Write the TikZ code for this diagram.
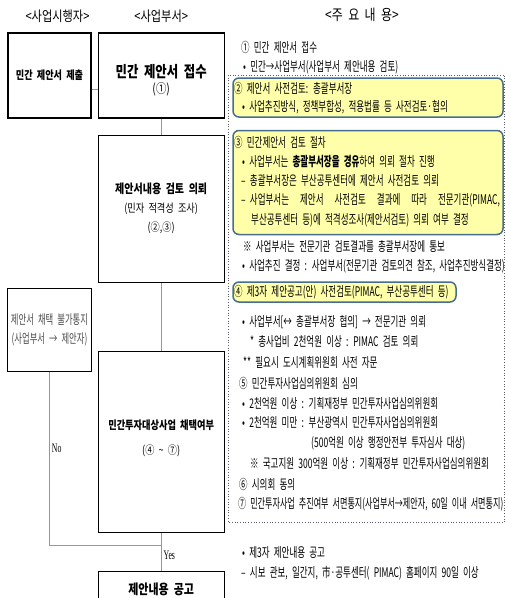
\documentclass[tikz,border=0pt]{standalone}
\usepackage{fontspec}
\setmainfont{Noto Sans CJK KR}[FakeStretch=0.64, WordSpace=2.2]
\newfontfamily\boxfont{Noto Sans CJK KR}[FakeStretch=0.8, WordSpace=2]
\newfontfamily\ynfont{Liberation Serif}[FakeStretch=0.6]
\usetikzlibrary{positioning}

\definecolor{markFill}{RGB}{255,255,170}
\definecolor{markLine}{RGB}{70,110,140}
\definecolor{connGray}{RGB}{150,150,150}
\definecolor{dotGray}{RGB}{90,90,110}

\begin{document}
\begin{tikzpicture}[x=1pt, y=-1pt, node distance = 6pt]
            % Set primary nodes
            \tikzset{
                headNode/.style={
                        inner sep=0pt,
                        font=\boxfont\fontsize{14}{16}\selectfont
                    }
            }
            \tikzset{
                stepNode/.style={
                        draw,
                        rectangle,
                        line width=1.2pt,
                        minimum width=126pt,
                        align=center
                    }
            }
            \tikzset{
                sideNode/.style={
                        draw,
                        rectangle,
                        line width=1.2pt,
                        minimum width=83pt,
                        align=center
                    }
            }
            \tikzset{
                markNode/.style={
                        draw=markLine,
                        fill=markFill,
                        line width=1.5pt,
                        rounded corners=6pt,
                        inner sep=0pt
                    }
            }
            \tikzset{
                lineNode/.style={
                        anchor=west,
                        inner sep=0pt,
                        font=\fontsize{13.3}{15}\selectfont
                    }
            }
            \tikzset{
                ynNode/.style={
                        inner sep=2pt,
                        font=\ynfont\fontsize{13}{15}\selectfont
                    }
            }
            % Configure lines
            \tikzset{conn/.style={draw=connGray, line width=0.9pt}}
            \useasboundingbox (0,0) rectangle (506,598);
            % Placing nodes
            \node[sideNode, minimum height=85pt, font=\boxfont\bfseries\fontsize{11.4}{13}\selectfont] (submit) at (49.5,75.5) {민간 제안서 제출};
            \node[stepNode, minimum height=85pt, right = 6pt of submit] (receive) {};
            \node[stepNode, minimum height=147pt, below = 16pt of receive, font=\boxfont\fontsize{11.5}{19}\selectfont] (review) {{\bfseries\fontsize{12.5}{19}\selectfont 제안서내용 검토 의뢰}\\(민자 적격성 조사)\\(②,③)};
            \node[stepNode, minimum height=181pt, below = 68pt of review] (select) {};
            \node[stepNode, minimum height=36pt, below = 38pt of select, font=\boxfont\bfseries\fontsize{13.75}{15}\selectfont] (notice) {제안내용 공고};
            \node[sideNode, minimum height=83pt, below = 169pt of submit, text=black!70, font=\fontsize{13}{19}\selectfont] (reject) {제안서 채택 불가통지\\(사업부서 → 제안자)};
            \node[font=\boxfont\bfseries\fontsize{15.5}{17}\selectfont] (receiveTitle) at ([yshift=3.5pt]receive.center) {민간 제안서 접수};
            \node[font=\boxfont\fontsize{13}{15}\selectfont] (receiveNum) at ([yshift=-13.5pt]receive.center) {(①)};
            \node[font=\boxfont\bfseries\fontsize{11.5}{13}\selectfont] (selectTitle) at ([yshift=16.5pt]select.center) {민간투자대상사업 채택여부};
            \node[font=\boxfont\fontsize{11.5}{13}\selectfont] (selectNum) at ([yshift=-8.5pt]select.center) {(④ \char"7E\ ⑦)};
            \node[headNode, above = 10pt of submit, xshift=8pt] (headA) {<사업시행자>};
            \node[headNode, above = 10pt of receive] (headB) {<사업부서>};
            \node[headNode, font=\boxfont\fontsize{15}{17}\selectfont] (headC) at (362,15) {<주 요 내 용>};
            % Notes on the right
            \draw[dotted, dotGray, line width=0.7pt] (228,75) rectangle (504.5,522);
            \node[markNode, minimum width=270pt, minimum height=39pt] (mark1) at (368,97.5) {};
            \node[markNode, minimum width=270pt, minimum height=104pt] (mark2) at (368,182.5) {};
            \node[markNode, minimum width=223pt, minimum height=20pt] (mark3) at (344.5,292) {};
            \node[lineNode] (t1) at (241,47) {① 민간 제안서 접수};
            \node[lineNode] (t2) at (243,67) {• 민간→사업부서(사업부서 제안내용 검토)};
            \node[lineNode] (t3) at (234,88) {② 제안서 사전검토: 총괄부서장};
            \node[lineNode] (t4) at (242,107) {• 사업추진방식, 정책부합성, 적용법률 등 사전검토·협의};
            \node[lineNode] (t5) at (234,142) {③ 민간제안서 검토 절차};
            \node[lineNode] (t6) at (242,161.5) {• 사업부서는 \textbf{총괄부서장을} \textbf{경유}하여 의뢰 절차 진행};
            \node[lineNode] (t7) at (241,181) {– 총괄부서장은 부산공투센터에 제안서 사전검토 의뢰};
            \node[lineNode] (t8) at (241,200.5) {– \makebox[250pt][s]{사업부서는 제안서 사전검토 결과에 따라 전문기관(PIMAC,}};
            \node[lineNode] (t9) at (251,220) {부산공투센터 등)에 적격성조사(제안서검토) 의뢰 여부 결정};
            \node[lineNode] (t10) at (243,247) {※ 사업부서는 전문기관 검토결과를 총괄부서장에 통보};
            \node[lineNode] (t11) at (242,266) {• 사업추진 결정 : 사업부서(전문기관 검토의견 참조, 사업추진방식결정)};
            \node[lineNode] (t12) at (234,292) {④ 제3자 제안공고(안) 사전검토(PIMAC, 부산공투센터 등)};
            \node[lineNode] (t13) at (242,322) {• 사업부서[↔ 총괄부서장 협의] → 전문기관 의뢰};
            \node[lineNode] (t14) at (250,342) {* 총사업비 2천억원 이상 : PIMAC 검토 의뢰};
            \node[lineNode] (t15) at (243,362) {** 필요시 도시계획위원회 사전 자문};
            \node[lineNode] (t16) at (239,383) {⑤ 민간투자사업심의위원회 심의};
            \node[lineNode] (t17) at (242,403) {• 2천억원 이상 : 기획재정부 민간투자사업심의위원회};
            \node[lineNode] (t18) at (242,423) {• 2천억원 미만 : 부산광역시 민간투자사업심의위원회};
            \node[lineNode] (t19) at (311,443) {(500억원 이상 행정안전부 투자심사 대상)};
            \node[lineNode] (t20) at (250,463) {※ 국고지원 300억원 이상 : 기획재정부 민간투자사업심의위원회};
            \node[lineNode] (t21) at (239,484) {⑥ 시의회 동의};
            \node[lineNode] (t22) at (238,504) {\scalebox{0.95}[1]{⑦ 민간투자사업 추진여부 서면통지(사업부서→제안자, 60일 이내 서면통지)}};
            \node[lineNode] (t23) at (242,553) {• 제3자 제안내용 공고};
            \node[lineNode] (t24) at (241,573) {– 시보 관보, 일간지, 市·공투센터( PIMAC) 홈페이지 90일 이상};
            % Draw lines
            \coordinate (join) at (select.south |- 0,545);
            \draw[conn] ([yshift=-13.5pt]submit.east) -- ([yshift=-13.5pt]receive.west);
            \draw[conn] (receive) -- (review);
            \draw[conn] (review) -- (select);
            \draw[conn] (select) -- (notice) node[ynNode, pos=0.58, right]{Yes};
            \draw[conn] (reject) -- (reject |- join) node[ynNode, pos=0.44, right]{No} -- (join);
        \end{tikzpicture}
\end{document}
